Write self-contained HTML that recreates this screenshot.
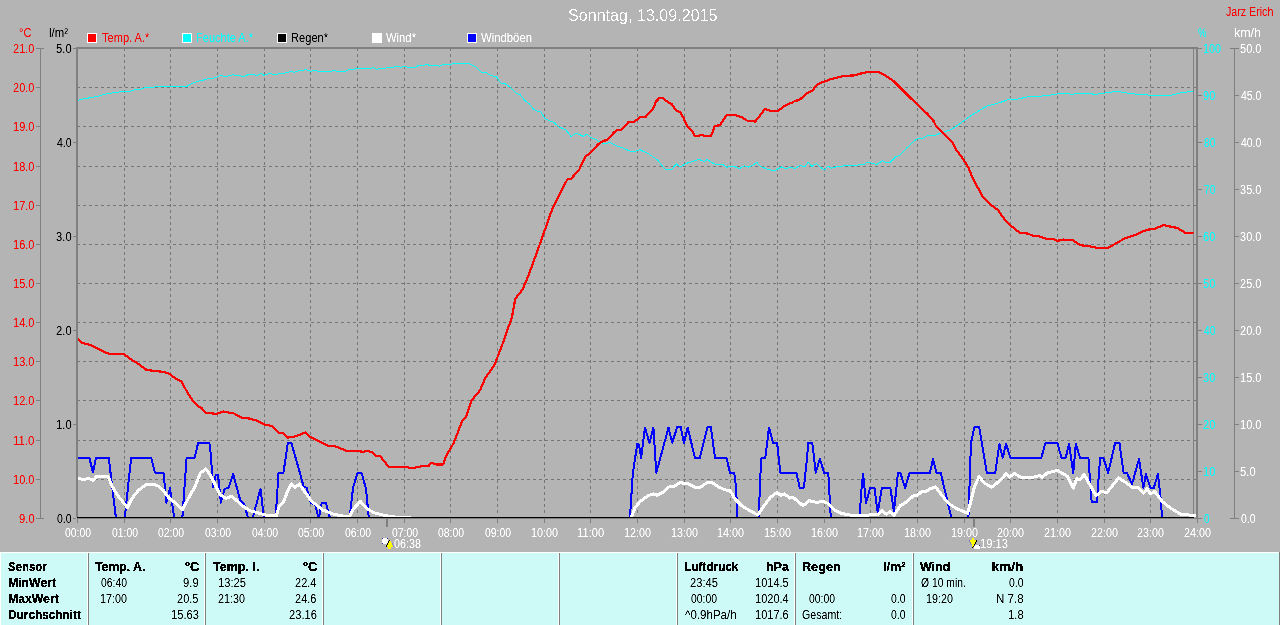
<!DOCTYPE html><html><head><meta charset="utf-8"><title>Sonntag, 13.09.2015</title><style>
html,body{margin:0;padding:0;background:#b4b4b4;width:1280px;height:625px;overflow:hidden}
svg{display:block}
text{font-family:'Liberation Sans', Arial, sans-serif;font-size:12px}
.b{font-weight:bold}
</style></head><body>
<svg width="1280" height="625" viewBox="0 0 1280 625">
<rect x="0" y="0" width="1280" height="625" fill="#b4b4b4"/>
<defs><filter id="ct" x="-5%" y="-20%" width="110%" height="140%"><feComponentTransfer><feFuncA type="linear" slope="1.7" intercept="-0.3"/></feComponentTransfer></filter><filter id="cb" x="-5%" y="-20%" width="110%" height="140%"><feComponentTransfer><feFuncA type="discrete" tableValues="0 0 0 1 1 1 1 1 1 1"/></feComponentTransfer></filter><filter id="cl" x="-5%" y="-20%" width="110%" height="140%"><feComponentTransfer><feFuncA type="discrete" tableValues="0 0 0 0 0 0 1 1 1 1"/></feComponentTransfer></filter></defs>
<text x="567.99" y="21" fill="#ffffff" style="font-size:16px" textLength="149.59" lengthAdjust="spacingAndGlyphs" filter="url(#cl)">Sonntag, 13.09.2015</text>
<text x="1226.00" y="16" fill="#ff0000" textLength="47.30" lengthAdjust="spacingAndGlyphs" filter="url(#ct)">Jarz Erich</text>
<text x="19.08" y="37" fill="#ff0000" textLength="12.35" lengthAdjust="spacingAndGlyphs" filter="url(#ct)">°C</text>
<text x="49.05" y="37" fill="#000" textLength="18.95" lengthAdjust="spacingAndGlyphs" filter="url(#ct)">l/m²</text>
<text x="1198.00" y="37" fill="#00ffff" textLength="8.54" lengthAdjust="spacingAndGlyphs" filter="url(#ct)">%</text>
<text x="1233.96" y="37" fill="#fff" textLength="27.10" lengthAdjust="spacingAndGlyphs" filter="url(#ct)">km/h</text>
<rect x="87" y="33" width="10" height="10" fill="#fff"/>
<rect x="88" y="34" width="8" height="8" fill="#ff0000"/>
<text x="102.00" y="42" fill="#ff0000" textLength="47.33" lengthAdjust="spacingAndGlyphs" filter="url(#ct)">Temp. A.*</text>
<rect x="182" y="33" width="10" height="10" fill="#fff"/>
<rect x="183" y="34" width="8" height="8" fill="#00ffff"/>
<text x="196.08" y="42" fill="#00ffff" textLength="56.96" lengthAdjust="spacingAndGlyphs" filter="url(#ct)">Feuchte A.*</text>
<rect x="277" y="33" width="10" height="10" fill="#fff"/>
<rect x="278" y="34" width="8" height="8" fill="#000000"/>
<text x="291.08" y="42" fill="#000000" textLength="36.95" lengthAdjust="spacingAndGlyphs" filter="url(#ct)">Regen*</text>
<rect x="372" y="33" width="10" height="10" fill="#fff"/>
<rect x="373" y="34" width="8" height="8" fill="#ffffff"/>
<text x="386.00" y="42" fill="#ffffff" textLength="30.01" lengthAdjust="spacingAndGlyphs" filter="url(#ct)">Wind*</text>
<rect x="467" y="33" width="10" height="10" fill="#fff"/>
<rect x="468" y="34" width="8" height="8" fill="#0000ff"/>
<text x="481.00" y="42" fill="#ffffff" textLength="50.99" lengthAdjust="spacingAndGlyphs" filter="url(#ct)">Windböen</text>
<g stroke="#767676" stroke-width="1" stroke-dasharray="3 3" shape-rendering="crispEdges"><line x1="77" y1="87.5" x2="1196" y2="87.5"/><line x1="77" y1="126.5" x2="1196" y2="126.5"/><line x1="77" y1="166.5" x2="1196" y2="166.5"/><line x1="77" y1="205.5" x2="1196" y2="205.5"/><line x1="77" y1="244.5" x2="1196" y2="244.5"/><line x1="77" y1="283.5" x2="1196" y2="283.5"/><line x1="77" y1="322.5" x2="1196" y2="322.5"/><line x1="77" y1="361.5" x2="1196" y2="361.5"/><line x1="77" y1="400.5" x2="1196" y2="400.5"/><line x1="77" y1="440.5" x2="1196" y2="440.5"/><line x1="77" y1="479.5" x2="1196" y2="479.5"/></g>
<g stroke="#767676" stroke-width="1" stroke-dasharray="3 3" shape-rendering="crispEdges"><line x1="124.5" y1="48" x2="124.5" y2="516"/><line x1="170.5" y1="48" x2="170.5" y2="516"/><line x1="217.5" y1="48" x2="217.5" y2="516"/><line x1="264.5" y1="48" x2="264.5" y2="516"/><line x1="310.5" y1="48" x2="310.5" y2="516"/><line x1="357.5" y1="48" x2="357.5" y2="516"/><line x1="404.5" y1="48" x2="404.5" y2="516"/><line x1="450.5" y1="48" x2="450.5" y2="516"/><line x1="497.5" y1="48" x2="497.5" y2="516"/><line x1="544.5" y1="48" x2="544.5" y2="516"/><line x1="590.5" y1="48" x2="590.5" y2="516"/><line x1="637.5" y1="48" x2="637.5" y2="516"/><line x1="684.5" y1="48" x2="684.5" y2="516"/><line x1="730.5" y1="48" x2="730.5" y2="516"/><line x1="777.5" y1="48" x2="777.5" y2="516"/><line x1="824.5" y1="48" x2="824.5" y2="516"/><line x1="870.5" y1="48" x2="870.5" y2="516"/><line x1="917.5" y1="48" x2="917.5" y2="516"/><line x1="964.5" y1="48" x2="964.5" y2="516"/><line x1="1010.5" y1="48" x2="1010.5" y2="516"/><line x1="1057.5" y1="48" x2="1057.5" y2="516"/><line x1="1104.5" y1="48" x2="1104.5" y2="516"/><line x1="1150.5" y1="48" x2="1150.5" y2="516"/></g>
<g stroke="#808080" stroke-width="1" shape-rendering="crispEdges" fill="none"><line x1="40.5" y1="48" x2="40.5" y2="519"/><line x1="36" y1="48.5" x2="44" y2="48.5"/><line x1="36" y1="87.5" x2="40" y2="87.5"/><line x1="36" y1="126.5" x2="40" y2="126.5"/><line x1="36" y1="166.5" x2="40" y2="166.5"/><line x1="36" y1="205.5" x2="40" y2="205.5"/><line x1="36" y1="244.5" x2="40" y2="244.5"/><line x1="36" y1="283.5" x2="40" y2="283.5"/><line x1="36" y1="322.5" x2="40" y2="322.5"/><line x1="36" y1="361.5" x2="40" y2="361.5"/><line x1="36" y1="400.5" x2="40" y2="400.5"/><line x1="36" y1="440.5" x2="40" y2="440.5"/><line x1="36" y1="479.5" x2="40" y2="479.5"/><line x1="36" y1="518.5" x2="44" y2="518.5"/><line x1="73" y1="48.5" x2="76" y2="48.5"/><line x1="73" y1="142.5" x2="76" y2="142.5"/><line x1="73" y1="236.5" x2="76" y2="236.5"/><line x1="73" y1="330.5" x2="76" y2="330.5"/><line x1="73" y1="424.5" x2="76" y2="424.5"/><line x1="73" y1="518.5" x2="76" y2="518.5"/><line x1="1198" y1="48.5" x2="1202" y2="48.5"/><line x1="1198" y1="95.5" x2="1202" y2="95.5"/><line x1="1198" y1="142.5" x2="1202" y2="142.5"/><line x1="1198" y1="189.5" x2="1202" y2="189.5"/><line x1="1198" y1="236.5" x2="1202" y2="236.5"/><line x1="1198" y1="283.5" x2="1202" y2="283.5"/><line x1="1198" y1="330.5" x2="1202" y2="330.5"/><line x1="1198" y1="377.5" x2="1202" y2="377.5"/><line x1="1198" y1="424.5" x2="1202" y2="424.5"/><line x1="1198" y1="471.5" x2="1202" y2="471.5"/><line x1="1198" y1="518.5" x2="1202" y2="518.5"/><line x1="1234.5" y1="48" x2="1234.5" y2="519"/><line x1="1230" y1="48.5" x2="1239" y2="48.5"/><line x1="1235" y1="95.5" x2="1239" y2="95.5"/><line x1="1235" y1="142.5" x2="1239" y2="142.5"/><line x1="1235" y1="189.5" x2="1239" y2="189.5"/><line x1="1235" y1="236.5" x2="1239" y2="236.5"/><line x1="1235" y1="283.5" x2="1239" y2="283.5"/><line x1="1235" y1="330.5" x2="1239" y2="330.5"/><line x1="1235" y1="377.5" x2="1239" y2="377.5"/><line x1="1235" y1="424.5" x2="1239" y2="424.5"/><line x1="1235" y1="471.5" x2="1239" y2="471.5"/><line x1="1230" y1="518.5" x2="1239" y2="518.5"/><line x1="1193.5" y1="49" x2="1193.5" y2="515"/><line x1="77.5" y1="517" x2="77.5" y2="523"/><line x1="124.5" y1="519" x2="124.5" y2="523"/><line x1="170.5" y1="519" x2="170.5" y2="523"/><line x1="217.5" y1="519" x2="217.5" y2="523"/><line x1="264.5" y1="519" x2="264.5" y2="523"/><line x1="310.5" y1="519" x2="310.5" y2="523"/><line x1="357.5" y1="519" x2="357.5" y2="523"/><line x1="404.5" y1="519" x2="404.5" y2="523"/><line x1="450.5" y1="519" x2="450.5" y2="523"/><line x1="497.5" y1="519" x2="497.5" y2="523"/><line x1="544.5" y1="519" x2="544.5" y2="523"/><line x1="590.5" y1="519" x2="590.5" y2="523"/><line x1="637.5" y1="519" x2="637.5" y2="523"/><line x1="684.5" y1="519" x2="684.5" y2="523"/><line x1="730.5" y1="519" x2="730.5" y2="523"/><line x1="777.5" y1="519" x2="777.5" y2="523"/><line x1="824.5" y1="519" x2="824.5" y2="523"/><line x1="870.5" y1="519" x2="870.5" y2="523"/><line x1="917.5" y1="519" x2="917.5" y2="523"/><line x1="964.5" y1="519" x2="964.5" y2="523"/><line x1="1010.5" y1="519" x2="1010.5" y2="523"/><line x1="1057.5" y1="519" x2="1057.5" y2="523"/><line x1="1104.5" y1="519" x2="1104.5" y2="523"/><line x1="1150.5" y1="519" x2="1150.5" y2="523"/><line x1="1197.5" y1="519" x2="1197.5" y2="523"/></g>
<g fill="#808080" shape-rendering="crispEdges">
<rect x="76" y="47" width="1122" height="2"/>
<rect x="76" y="47" width="2" height="470"/>
<rect x="1196" y="47" width="2" height="471"/>
<rect x="1197" y="518" width="1" height="5"/>
<rect x="77" y="518" width="1121" height="1"/>
<rect x="386" y="519" width="2" height="8"/>
<rect x="973" y="519" width="2" height="8"/>
</g>
<defs><clipPath id="pc"><rect x="78" y="49" width="1118" height="468"/></clipPath></defs>
<g clip-path="url(#pc)" fill="none" stroke-linejoin="round" stroke-linecap="round" shape-rendering="crispEdges">
<polyline points="77.7,100.4 84.2,98.8 91.3,97.5 98.4,96.3 104.5,94.3 110.6,93.3 116.7,92.3 123.8,91.4 130.9,91.2 135.0,89.6 141.1,89.0 145.2,87.6 157.3,86.8 171.6,86.4 186.8,86.4 191.9,83.5 197.0,81.5 204.0,79.9 208.1,78.6 213.2,78.4 220.3,75.6 226.4,76.4 232.5,74.8 238.6,75.6 243.7,76.4 248.7,74.6 254.8,74.6 255.9,75.8 260.9,73.6 264.0,75.2 269.0,73.6 275.2,74.6 279.2,73.6 285.3,73.0 290.4,71.5 294.5,72.3 299.5,70.5 306.6,69.7 310.7,71.3 314.8,70.5 318.8,71.3 331.2,71.3 333.2,70.3 337.3,71.3 345.4,71.3 348.4,69.7 354.5,69.3 356.6,68.5 370.8,68.5 372.8,67.5 376.9,69.3 379.9,68.5 385.0,68.5 387.0,67.5 393.1,67.5 395.2,66.3 398.2,66.3 401.3,67.7 403.3,66.3 406.3,66.3 407.3,67.5 415.5,67.5 418.5,65.4 423.6,65.4 426.6,64.4 429.7,65.4 437.8,65.4 439.8,66.3 442.9,64.4 451.0,64.4 453.0,63.4 468.3,63.4 471.3,64.6 476.4,67.3 481.5,72.3 485.5,72.3 490.6,75.4 496.7,77.0 498.8,80.5 500.8,83.1 504.8,83.5 510.9,87.6 516.0,93.1 520.1,94.7 525.2,100.8 529.2,103.8 533.3,108.9 537.3,111.3 540.4,111.3 544.5,118.0 549.5,120.7 553.6,122.1 558.7,126.8 563.0,128.6 566.0,130.0 571.0,136.6 575.9,133.2 579.2,134.4 583.6,136.6 586.4,134.3 588.8,135.4 590.3,137.5 593.7,138.5 596.5,139.7 598.5,141.4 604.9,144.0 609.7,142.4 616.1,145.6 622.5,147.9 632.1,152.0 640.1,149.8 648.1,153.6 657.7,160.0 664.7,169.0 672.1,169.0 676.3,163.9 680.1,167.1 686.5,163.3 699.3,159.4 704.1,161.7 707.3,159.4 713.7,163.9 723.3,164.9 726.5,167.1 734.5,166.5 739.3,168.7 744.1,165.8 748.9,167.1 757.0,162.6 760.2,166.5 770.0,169.9 774.6,170.6 781.6,166.9 785.1,168.7 789.7,167.6 795.5,168.3 800.2,165.2 804.8,166.9 808.3,162.2 811.8,166.4 816.4,163.6 819.9,166.9 824.5,169.9 828.0,165.9 831.5,168.3 837.3,166.4 844.3,165.9 848.9,165.9 858.2,165.0 865.1,164.1 866.3,162.4 872.1,163.1 876.8,164.5 882.6,160.6 886.0,162.9 889.5,162.9 895.3,157.1 900.0,155.3 906.9,147.8 911.6,143.2 917.4,138.5 920.8,139.0 927.8,135.8 935.9,135.1 941.7,132.7 951.0,129.7 960.3,123.5 969.6,116.5 978.9,110.7 987.0,106.1 999.7,102.6 1002.8,101.6 1010.4,98.9 1014.9,99.8 1022.5,98.0 1028.6,96.7 1040.8,96.1 1049.9,95.2 1059.0,93.7 1066.6,93.1 1071.2,94.3 1083.3,93.1 1095.5,94.3 1104.6,93.1 1116.7,91.3 1128.9,93.4 1138.0,94.3 1150.2,95.2 1171.4,95.2 1180.5,92.8 1192.7,91.3" stroke="#00ffff" stroke-width="1"/>
<polyline points="77.2,458.1 89.4,458.1 93.0,472.5 95.9,458.1 108.8,458.1 116.0,518.5 124.7,518.5 131.1,458.1 151.3,458.1 154.9,472.5 163.5,472.5 166.4,502.7 170.0,488.3 174.3,518.5 182.3,518.5 186.6,458.1 194.5,458.1 198.1,443.0 209.4,443.0 210.8,454.5 213.0,487.6 215.8,474.6 218.0,474.6 220.9,502.7 224.5,489.0 228.8,487.6 233.1,473.9 240.3,500.5 243.9,503.4 248.2,518.5 252.5,518.5 260.5,489.0 264.1,518.5 275.6,518.5 278.5,473.2 283.5,472.5 287.8,443.0 291.4,443.0 300.8,476.1 303.7,486.9 306.5,487.6 310.9,502.7 315.2,504.9 318.8,518.5 321.7,503.4 326.0,502.7 330.0,518.5 349.5,518.5 353.1,487.6 357.4,473.2 361.7,473.2 366.0,489.0 368.9,518.5 629.9,518.5 632.8,473.8 635.3,457.0 637.3,443.6 639.0,445.2 641.1,457.8 645.0,427.6 649.5,442.7 653.4,427.6 656.3,472.9 668.5,427.6 672.2,442.7 677.3,426.8 680.6,426.8 684.0,442.7 687.7,427.6 694.9,457.8 699.9,457.8 707.5,426.8 710.8,426.8 715.0,457.8 726.0,457.8 726.7,458.7 730.0,472.9 734.2,472.9 735.9,485.5 737.6,518.5 758.6,518.5 760.3,478.8 761.1,458.3 765.3,457.8 769.0,427.6 772.9,442.7 777.1,442.7 780.4,472.9 796.4,472.9 799.7,487.7 803.9,487.7 807.3,455.3 808.1,442.7 812.3,442.7 815.7,472.9 819.9,458.7 824.1,472.9 828.3,472.9 830.8,518.5 859.7,518.5 860.9,495.6 863.1,473.4 866.0,503.2 870.2,487.7 874.4,487.7 877.7,512.4 881.9,487.7 890.3,487.7 894.0,511.6 897.9,472.9 900.4,472.9 905.1,488.1 909.6,472.9 929.8,472.9 933.1,459.0 936.5,472.9 940.7,472.9 945.7,493.9 951.6,518.5 968.4,518.5 970.1,468.7 970.9,443.6 974.3,427.1 979.2,427.1 986.8,472.9 995.2,472.9 999.4,443.9 1002.7,457.8 1006.1,443.9 1010.3,457.8 1041.3,457.8 1045.5,442.7 1057.3,442.7 1061.5,457.8 1065.7,457.8 1069.1,443.9 1073.3,472.9 1075.8,443.9 1080.0,457.8 1088.4,457.8 1091.7,502.3 1096.8,502.3 1100.1,457.8 1103.4,457.8 1108.1,472.9 1115.2,442.7 1119.4,442.7 1123.6,472.9 1126.9,472.9 1132.0,484.2 1139.0,459.0 1143.4,488.0 1145.9,473.8 1150.5,488.0 1153.8,488.0 1158.0,473.8 1160.5,497.3 1162.2,518.5" stroke="#0000ff" stroke-width="2"/>
<polyline points="77.2,478.7 83.6,479.2 89.4,478.7 93.0,480.4 96.6,476.4 108.1,476.4 112.4,486.9 118.2,496.2 127.5,507.7 132.6,497.7 138.3,490.5 147.0,484.0 152.7,484.0 158.5,486.1 163.5,490.5 168.6,497.7 175.8,503.4 182.3,509.9 188.7,497.7 194.5,487.6 200.3,473.2 205.8,468.9 210.1,474.6 220.2,494.8 225.9,498.4 231.7,496.2 243.2,506.3 250.4,510.9 260.5,513.5 267.7,515.7 276.3,515.7 279.2,506.3 283.5,502.0 287.8,490.5 291.4,484.0 295.0,487.6 299.3,484.0 310.9,500.5 322.4,509.9 330.0,512.8 333.6,514.2 342.3,516.0 349.5,516.0 353.8,508.5 360.3,501.3 366.8,508.5 374.0,512.8 385.5,515.7 397.0,517.3 410.0,517.5" stroke="#ffffff" stroke-width="3"/>
<polyline points="631.1,518.0 635.3,507.0 640.3,501.5 647.9,495.6 653.7,493.9 657.1,495.3 663.0,492.3 668.0,487.2 673.9,486.4 680.6,482.2 684.0,483.9 688.2,483.9 695.7,487.7 699.9,487.7 707.5,482.2 711.7,482.2 717.6,486.4 724.3,489.7 730.0,490.6 735.1,499.0 741.8,505.7 748.5,509.9 757.8,514.9 763.6,506.5 770.3,497.3 777.1,492.3 780.4,495.3 784.6,493.9 789.7,498.1 793.0,497.3 798.9,502.3 803.1,505.7 809.0,500.7 816.5,502.3 823.3,501.5 827.5,503.2 834.2,509.9 840.9,513.3 849.3,514.9 855.0,515.8 866.8,515.4 875.2,514.1 877.7,514.9 881.9,510.4 886.1,514.1 890.3,511.6 894.0,515.4 900.4,505.7 907.1,501.5 913.0,496.1 917.2,495.3 921.4,491.9 925.6,491.9 929.8,488.9 935.7,486.9 941.5,494.8 948.3,503.2 955.8,508.2 967.6,513.3 970.1,504.0 974.3,487.2 979.2,476.3 984.2,483.0 991.8,487.2 1000.2,480.5 1006.1,473.8 1009.4,477.1 1014.5,473.4 1020.3,477.1 1030.4,478.0 1039.7,475.5 1042.2,477.5 1047.2,472.9 1057.3,470.4 1067.4,476.3 1073.3,488.1 1076.6,478.8 1080.0,479.7 1084.2,474.6 1095.9,495.6 1101.8,491.4 1106.8,492.6 1118.5,478.0 1125.3,482.2 1132.0,487.2 1138.7,488.0 1143.7,493.1 1147.1,488.9 1150.5,493.9 1154.7,491.4 1162.2,501.5 1170.6,508.2 1180.7,514.1 1193.3,515.5 1195.0,515.6" stroke="#ffffff" stroke-width="3"/>
<polyline points="77.7,339.2 81.5,342.5 91.8,345.6 98.1,348.7 105.8,352.5 109.7,353.8 123.7,353.8 130.1,358.9 137.8,363.5 145.5,369.4 151.9,370.7 164.7,372.0 169.8,374.2 174.9,378.1 181.3,381.4 187.7,392.9 192.8,400.6 197.9,406.2 201.8,408.3 205.6,412.6 215.9,413.9 223.5,411.6 233.8,413.4 241.4,417.5 249.1,418.5 256.8,420.6 264.5,424.4 272.1,426.2 278.5,432.6 283.7,433.4 287.5,437.7 295.2,436.4 305.4,432.6 310.5,437.2 318.2,440.8 328.4,445.9 335.8,446.5 346.4,450.7 357.0,451.1 364.0,451.8 367.5,450.7 372.8,452.8 376.3,456.3 379.8,455.6 388.6,466.8 407.5,466.8 408.5,467.8 415.0,467.8 416.0,466.8 420.0,466.8 421.0,465.8 429.0,465.8 430.8,462.7 436.1,464.4 443.2,464.4 446.0,456.0 453.7,443.0 462.5,420.1 466.0,416.6 471.3,400.7 480.1,390.2 485.4,377.9 494.2,365.6 503.0,342.7 506.5,332.1 511.8,318.1 515.3,298.7 522.3,289.9 527.6,277.6 534.4,259.3 542.4,236.9 552.0,209.7 560.0,193.7 567.4,179.3 571.2,178.6 579.2,169.7 585.6,156.2 590.4,153.0 598.4,144.0 603.3,140.8 607.1,140.2 614.5,131.9 617.7,129.6 621.8,129.6 628.9,121.6 634.6,121.6 640.0,117.2 646.0,116.8 648.0,113.6 653.2,108.8 655.6,102.0 659.6,97.8 662.4,97.8 666.4,100.8 668.8,102.8 672.0,104.4 676.0,110.4 680.4,112.4 683.2,117.2 687.2,126.0 692.0,130.8 694.8,135.6 699.6,135.6 700.8,134.8 703.2,134.8 704.0,135.8 711.2,135.8 714.8,126.0 720.0,125.2 726.5,115.2 732.9,114.6 740.9,116.8 747.3,120.7 755.3,121.6 765.0,108.8 771.4,111.1 778.1,110.7 786.2,104.9 792.0,102.6 795.5,100.7 799.0,100.3 806.0,94.0 812.9,90.3 816.4,85.2 821.1,82.8 825.7,81.0 831.5,78.9 837.3,77.5 844.3,75.9 854.7,75.4 860.5,73.6 869.8,71.7 877.9,71.9 884.9,75.4 893.0,80.5 902.3,89.8 910.4,97.9 918.5,105.6 927.8,114.2 933.6,121.1 935.9,125.8 944.0,133.9 952.2,142.0 955.7,149.0 962.6,158.3 968.4,167.6 973.1,179.2 978.9,189.6 983.0,197.0 990.6,204.6 998.2,210.4 1005.8,221.0 1011.9,226.5 1019.5,232.6 1027.1,233.5 1033.2,235.6 1039.3,236.5 1045.3,238.6 1052.9,238.6 1057.5,240.8 1063.6,239.6 1072.7,240.2 1080.3,245.3 1087.9,245.9 1097.0,247.8 1107.6,247.8 1113.7,244.7 1124.3,238.6 1135.0,235.0 1144.1,231.0 1148.6,229.5 1154.7,228.9 1163.8,225.0 1169.9,226.5 1177.5,228.0 1185.1,232.6 1192.7,232.6" stroke="#ff0000" stroke-width="2.2"/>
</g>
<rect x="77" y="517" width="1117" height="1" fill="#000" shape-rendering="crispEdges"/>
<text x="13.09" y="53" fill="#ff0000" textLength="21.24" lengthAdjust="spacingAndGlyphs" filter="url(#ct)">21.0</text>
<text x="13.09" y="92" fill="#ff0000" textLength="21.24" lengthAdjust="spacingAndGlyphs" filter="url(#ct)">20.0</text>
<text x="13.09" y="131" fill="#ff0000" textLength="21.24" lengthAdjust="spacingAndGlyphs" filter="url(#ct)">19.0</text>
<text x="13.09" y="171" fill="#ff0000" textLength="21.24" lengthAdjust="spacingAndGlyphs" filter="url(#ct)">18.0</text>
<text x="13.09" y="210" fill="#ff0000" textLength="21.24" lengthAdjust="spacingAndGlyphs" filter="url(#ct)">17.0</text>
<text x="13.09" y="249" fill="#ff0000" textLength="21.24" lengthAdjust="spacingAndGlyphs" filter="url(#ct)">16.0</text>
<text x="13.09" y="288" fill="#ff0000" textLength="21.24" lengthAdjust="spacingAndGlyphs" filter="url(#ct)">15.0</text>
<text x="13.09" y="327" fill="#ff0000" textLength="21.24" lengthAdjust="spacingAndGlyphs" filter="url(#ct)">14.0</text>
<text x="13.09" y="366" fill="#ff0000" textLength="21.24" lengthAdjust="spacingAndGlyphs" filter="url(#ct)">13.0</text>
<text x="13.09" y="405" fill="#ff0000" textLength="21.24" lengthAdjust="spacingAndGlyphs" filter="url(#ct)">12.0</text>
<text x="13.05" y="445" fill="#ff0000" textLength="21.40" lengthAdjust="spacingAndGlyphs" filter="url(#ct)">11.0</text>
<text x="13.09" y="484" fill="#ff0000" textLength="21.24" lengthAdjust="spacingAndGlyphs" filter="url(#ct)">10.0</text>
<text x="19.07" y="523" fill="#ff0000" textLength="15.58" lengthAdjust="spacingAndGlyphs" filter="url(#ct)">9.0</text>
<text x="56.07" y="53" fill="#000" textLength="15.58" lengthAdjust="spacingAndGlyphs" filter="url(#ct)">5.0</text>
<text x="57.00" y="147" fill="#000" textLength="14.60" lengthAdjust="spacingAndGlyphs" filter="url(#ct)">4.0</text>
<text x="56.07" y="241" fill="#000" textLength="15.58" lengthAdjust="spacingAndGlyphs" filter="url(#ct)">3.0</text>
<text x="56.07" y="335" fill="#000" textLength="15.58" lengthAdjust="spacingAndGlyphs" filter="url(#ct)">2.0</text>
<text x="56.07" y="429" fill="#000" textLength="15.58" lengthAdjust="spacingAndGlyphs" filter="url(#ct)">1.0</text>
<text x="57.00" y="523" fill="#000" textLength="14.60" lengthAdjust="spacingAndGlyphs" filter="url(#ct)">0.0</text>
<text x="1203.11" y="53" fill="#00ffff" textLength="17.92" lengthAdjust="spacingAndGlyphs" filter="url(#ct)">100</text>
<text x="1240.09" y="53" fill="#fff" textLength="21.24" lengthAdjust="spacingAndGlyphs" filter="url(#ct)">50.0</text>
<text x="1203.08" y="100" fill="#00ffff" textLength="12.25" lengthAdjust="spacingAndGlyphs" filter="url(#ct)">90</text>
<text x="1241.00" y="100" fill="#fff" textLength="20.31" lengthAdjust="spacingAndGlyphs" filter="url(#ct)">45.0</text>
<text x="1204.00" y="147" fill="#00ffff" textLength="11.30" lengthAdjust="spacingAndGlyphs" filter="url(#ct)">80</text>
<text x="1241.00" y="147" fill="#fff" textLength="20.31" lengthAdjust="spacingAndGlyphs" filter="url(#ct)">40.0</text>
<text x="1204.00" y="194" fill="#00ffff" textLength="11.30" lengthAdjust="spacingAndGlyphs" filter="url(#ct)">70</text>
<text x="1240.09" y="194" fill="#fff" textLength="21.24" lengthAdjust="spacingAndGlyphs" filter="url(#ct)">35.0</text>
<text x="1203.08" y="241" fill="#00ffff" textLength="12.25" lengthAdjust="spacingAndGlyphs" filter="url(#ct)">60</text>
<text x="1240.09" y="241" fill="#fff" textLength="21.24" lengthAdjust="spacingAndGlyphs" filter="url(#ct)">30.0</text>
<text x="1203.08" y="288" fill="#00ffff" textLength="12.25" lengthAdjust="spacingAndGlyphs" filter="url(#ct)">50</text>
<text x="1240.09" y="288" fill="#fff" textLength="21.24" lengthAdjust="spacingAndGlyphs" filter="url(#ct)">25.0</text>
<text x="1204.00" y="335" fill="#00ffff" textLength="11.30" lengthAdjust="spacingAndGlyphs" filter="url(#ct)">40</text>
<text x="1240.09" y="335" fill="#fff" textLength="21.24" lengthAdjust="spacingAndGlyphs" filter="url(#ct)">20.0</text>
<text x="1203.08" y="382" fill="#00ffff" textLength="12.25" lengthAdjust="spacingAndGlyphs" filter="url(#ct)">30</text>
<text x="1240.09" y="382" fill="#fff" textLength="21.24" lengthAdjust="spacingAndGlyphs" filter="url(#ct)">15.0</text>
<text x="1203.08" y="429" fill="#00ffff" textLength="12.25" lengthAdjust="spacingAndGlyphs" filter="url(#ct)">20</text>
<text x="1240.09" y="429" fill="#fff" textLength="21.24" lengthAdjust="spacingAndGlyphs" filter="url(#ct)">10.0</text>
<text x="1203.08" y="476" fill="#00ffff" textLength="12.25" lengthAdjust="spacingAndGlyphs" filter="url(#ct)">10</text>
<text x="1240.07" y="476" fill="#fff" textLength="15.58" lengthAdjust="spacingAndGlyphs" filter="url(#ct)">5.0</text>
<text x="1204.00" y="523" fill="#00ffff" textLength="5.57" lengthAdjust="spacingAndGlyphs" filter="url(#ct)">0</text>
<text x="1241.00" y="523" fill="#fff" textLength="14.60" lengthAdjust="spacingAndGlyphs" filter="url(#ct)">0.0</text>
<text x="65.00" y="537" fill="#fff" textLength="26.03" lengthAdjust="spacingAndGlyphs" filter="url(#ct)">00:00</text>
<text x="112.00" y="537" fill="#fff" textLength="26.03" lengthAdjust="spacingAndGlyphs" filter="url(#ct)">01:00</text>
<text x="158.00" y="537" fill="#fff" textLength="26.03" lengthAdjust="spacingAndGlyphs" filter="url(#ct)">02:00</text>
<text x="205.00" y="537" fill="#fff" textLength="26.03" lengthAdjust="spacingAndGlyphs" filter="url(#ct)">03:00</text>
<text x="252.00" y="537" fill="#fff" textLength="26.03" lengthAdjust="spacingAndGlyphs" filter="url(#ct)">04:00</text>
<text x="298.00" y="537" fill="#fff" textLength="26.03" lengthAdjust="spacingAndGlyphs" filter="url(#ct)">05:00</text>
<text x="345.00" y="537" fill="#fff" textLength="26.03" lengthAdjust="spacingAndGlyphs" filter="url(#ct)">06:00</text>
<text x="392.00" y="537" fill="#fff" textLength="26.03" lengthAdjust="spacingAndGlyphs" filter="url(#ct)">07:00</text>
<text x="438.00" y="537" fill="#fff" textLength="26.03" lengthAdjust="spacingAndGlyphs" filter="url(#ct)">08:00</text>
<text x="485.00" y="537" fill="#fff" textLength="26.03" lengthAdjust="spacingAndGlyphs" filter="url(#ct)">09:00</text>
<text x="531.10" y="537" fill="#fff" textLength="26.92" lengthAdjust="spacingAndGlyphs" filter="url(#ct)">10:00</text>
<text x="577.07" y="537" fill="#fff" textLength="27.06" lengthAdjust="spacingAndGlyphs" filter="url(#ct)">11:00</text>
<text x="624.10" y="537" fill="#fff" textLength="26.92" lengthAdjust="spacingAndGlyphs" filter="url(#ct)">12:00</text>
<text x="671.10" y="537" fill="#fff" textLength="26.92" lengthAdjust="spacingAndGlyphs" filter="url(#ct)">13:00</text>
<text x="717.10" y="537" fill="#fff" textLength="26.92" lengthAdjust="spacingAndGlyphs" filter="url(#ct)">14:00</text>
<text x="764.10" y="537" fill="#fff" textLength="26.92" lengthAdjust="spacingAndGlyphs" filter="url(#ct)">15:00</text>
<text x="811.10" y="537" fill="#fff" textLength="26.92" lengthAdjust="spacingAndGlyphs" filter="url(#ct)">16:00</text>
<text x="857.10" y="537" fill="#fff" textLength="26.92" lengthAdjust="spacingAndGlyphs" filter="url(#ct)">17:00</text>
<text x="904.10" y="537" fill="#fff" textLength="26.92" lengthAdjust="spacingAndGlyphs" filter="url(#ct)">18:00</text>
<text x="951.10" y="537" fill="#fff" textLength="26.92" lengthAdjust="spacingAndGlyphs" filter="url(#ct)">19:00</text>
<text x="997.10" y="537" fill="#fff" textLength="26.92" lengthAdjust="spacingAndGlyphs" filter="url(#ct)">20:00</text>
<text x="1044.10" y="537" fill="#fff" textLength="26.92" lengthAdjust="spacingAndGlyphs" filter="url(#ct)">21:00</text>
<text x="1091.10" y="537" fill="#fff" textLength="26.92" lengthAdjust="spacingAndGlyphs" filter="url(#ct)">22:00</text>
<text x="1137.10" y="537" fill="#fff" textLength="26.92" lengthAdjust="spacingAndGlyphs" filter="url(#ct)">23:00</text>
<text x="1184.10" y="537" fill="#fff" textLength="26.92" lengthAdjust="spacingAndGlyphs" filter="url(#ct)">24:00</text>
<text x="394.00" y="548" fill="#fff" textLength="26.92" lengthAdjust="spacingAndGlyphs" filter="url(#ct)">06:38</text>
<text x="980.07" y="548" fill="#fff" textLength="27.89" lengthAdjust="spacingAndGlyphs" filter="url(#ct)">19:13</text>
<g shape-rendering="crispEdges">
<rect x="382" y="538" width="6" height="6" fill="#ffffff"/>
<rect x="382" y="538" width="1" height="1" fill="#2020a0"/>
<rect x="387" y="538" width="1" height="1" fill="#2020a0"/>
<rect x="382" y="543" width="1" height="1" fill="#2020a0"/>
<rect x="389" y="540" width="1" height="1" fill="#ffff00"/>
<rect x="389" y="541" width="2" height="1" fill="#ffff00"/>
<rect x="389" y="542" width="2" height="1" fill="#ffff00"/>
<rect x="388" y="543" width="4" height="1" fill="#ffff00"/>
<rect x="388" y="544" width="4" height="1" fill="#ffff00"/>
<rect x="387" y="545" width="6" height="1" fill="#ffff00"/>
<rect x="387" y="546" width="6" height="1" fill="#ffff00"/>
<rect x="388" y="547" width="3" height="1" fill="#ffff00"/>
<rect x="388" y="548" width="3" height="1" fill="#ffff00"/>
<rect x="389" y="540" width="1" height="1" fill="#000"/>
<rect x="388" y="541" width="1" height="1" fill="#000"/>
<rect x="388" y="542" width="1" height="1" fill="#000"/>
<rect x="387" y="543" width="1" height="1" fill="#000"/>
<rect x="387" y="544" width="1" height="1" fill="#000"/>
<rect x="386" y="545" width="1" height="1" fill="#000"/>
<rect x="386" y="546" width="1" height="1" fill="#000"/>
<rect x="392" y="543" width="1" height="1" fill="#8080d0"/>
<rect x="392" y="544" width="1" height="1" fill="#8080d0"/>
<rect x="393" y="545" width="1" height="1" fill="#8080d0"/>
<rect x="393" y="546" width="1" height="1" fill="#8080d0"/>
<rect x="972" y="538" width="2" height="1" fill="#ffff00"/>
<rect x="972" y="539" width="2" height="1" fill="#ffff00"/>
<rect x="970" y="540" width="6" height="1" fill="#ffff00"/>
<rect x="970" y="541" width="6" height="1" fill="#ffff00"/>
<rect x="971" y="542" width="4" height="1" fill="#ffff00"/>
<rect x="971" y="543" width="4" height="1" fill="#ffff00"/>
<rect x="972" y="544" width="2" height="1" fill="#ffff00"/>
<rect x="972" y="545" width="2" height="1" fill="#ffff00"/>
<rect x="972" y="546" width="1" height="1" fill="#ffff00"/>
<rect x="976" y="540" width="1" height="1" fill="#000"/>
<rect x="976" y="541" width="1" height="1" fill="#000"/>
<rect x="975" y="542" width="1" height="1" fill="#000"/>
<rect x="975" y="543" width="1" height="1" fill="#000"/>
<rect x="974" y="544" width="1" height="1" fill="#000"/>
<rect x="974" y="545" width="1" height="1" fill="#000"/>
<rect x="973" y="546" width="1" height="1" fill="#000"/>
<rect x="972" y="547" width="1" height="1" fill="#000"/>
<rect x="969" y="540" width="1" height="1" fill="#8080d0"/>
<rect x="969" y="541" width="1" height="1" fill="#8080d0"/>
<rect x="970" y="542" width="1" height="1" fill="#8080d0"/>
<rect x="970" y="543" width="1" height="1" fill="#8080d0"/>
<rect x="971" y="544" width="1" height="1" fill="#8080d0"/>
<rect x="974" y="546" width="6" height="3" fill="#ffffff"/>
<rect x="975" y="545" width="4" height="1" fill="#ffffff"/>
<rect x="974" y="545" width="1" height="1" fill="#2020a0"/>
<rect x="979" y="545" width="1" height="1" fill="#2020a0"/>
</g>
<g shape-rendering="crispEdges">
<rect x="0" y="552" width="1280" height="73" fill="#fff"/>
<rect x="1" y="553" width="1278" height="72" fill="#cdf9f6"/>
<rect x="1279" y="552" width="1" height="73" fill="#808080"/>
<rect x="87" y="553" width="1" height="72" fill="#fff"/>
<rect x="88" y="553" width="1" height="72" fill="#808080"/>
<rect x="204" y="553" width="1" height="72" fill="#fff"/>
<rect x="205" y="553" width="1" height="72" fill="#808080"/>
<rect x="322" y="553" width="1" height="72" fill="#fff"/>
<rect x="323" y="553" width="1" height="72" fill="#808080"/>
<rect x="440" y="553" width="1" height="72" fill="#fff"/>
<rect x="441" y="553" width="1" height="72" fill="#808080"/>
<rect x="558" y="553" width="1" height="72" fill="#fff"/>
<rect x="559" y="553" width="1" height="72" fill="#808080"/>
<rect x="676" y="553" width="1" height="72" fill="#fff"/>
<rect x="677" y="553" width="1" height="72" fill="#808080"/>
<rect x="794" y="553" width="1" height="72" fill="#fff"/>
<rect x="795" y="553" width="1" height="72" fill="#808080"/>
<rect x="912" y="553" width="1" height="72" fill="#fff"/>
<rect x="913" y="553" width="1" height="72" fill="#808080"/>
</g>
<text x="8.05" y="571" fill="#000" class="b" textLength="38.65" lengthAdjust="spacingAndGlyphs" filter="url(#cb)">Sensor</text>
<text x="7.98" y="587" fill="#000" class="b" textLength="48.13" lengthAdjust="spacingAndGlyphs" filter="url(#cb)">MinWert</text>
<text x="7.98" y="603" fill="#000" class="b" textLength="50.81" lengthAdjust="spacingAndGlyphs" filter="url(#cb)">MaxWert</text>
<text x="8.01" y="619" fill="#000" class="b" textLength="73.00" lengthAdjust="spacingAndGlyphs" filter="url(#cb)">Durchschnitt</text>
<text x="95.00" y="571" fill="#000" class="b" textLength="50.35" lengthAdjust="spacingAndGlyphs" filter="url(#cb)">Temp. A.</text>
<text x="184.92" y="571" fill="#000" class="b" textLength="14.59" lengthAdjust="spacingAndGlyphs" filter="url(#cb)">°C</text>
<text x="101.00" y="587" fill="#000" textLength="26.03" lengthAdjust="spacingAndGlyphs" filter="url(#ct)">06:40</text>
<text x="183.07" y="587" fill="#000" textLength="15.58" lengthAdjust="spacingAndGlyphs" filter="url(#ct)">9.9</text>
<text x="100.10" y="603" fill="#000" textLength="26.92" lengthAdjust="spacingAndGlyphs" filter="url(#ct)">17:00</text>
<text x="177.09" y="603" fill="#000" textLength="21.24" lengthAdjust="spacingAndGlyphs" filter="url(#ct)">20.5</text>
<text x="171.07" y="619" fill="#000" textLength="27.89" lengthAdjust="spacingAndGlyphs" filter="url(#ct)">15.63</text>
<text x="213.00" y="571" fill="#000" class="b" textLength="46.47" lengthAdjust="spacingAndGlyphs" filter="url(#cb)">Temp. I.</text>
<text x="302.92" y="571" fill="#000" class="b" textLength="14.59" lengthAdjust="spacingAndGlyphs" filter="url(#cb)">°C</text>
<text x="218.07" y="587" fill="#000" textLength="27.89" lengthAdjust="spacingAndGlyphs" filter="url(#ct)">13:25</text>
<text x="295.09" y="587" fill="#000" textLength="21.24" lengthAdjust="spacingAndGlyphs" filter="url(#ct)">22.4</text>
<text x="218.10" y="603" fill="#000" textLength="26.92" lengthAdjust="spacingAndGlyphs" filter="url(#ct)">21:30</text>
<text x="295.09" y="603" fill="#000" textLength="21.24" lengthAdjust="spacingAndGlyphs" filter="url(#ct)">24.6</text>
<text x="289.07" y="619" fill="#000" textLength="27.89" lengthAdjust="spacingAndGlyphs" filter="url(#ct)">23.16</text>
<text x="684.02" y="571" fill="#000" class="b" textLength="54.32" lengthAdjust="spacingAndGlyphs" filter="url(#cb)">Luftdruck</text>
<text x="765.95" y="571" fill="#000" class="b" textLength="23.06" lengthAdjust="spacingAndGlyphs" filter="url(#cb)">hPa</text>
<text x="690.07" y="587" fill="#000" textLength="27.89" lengthAdjust="spacingAndGlyphs" filter="url(#ct)">23:45</text>
<text x="755.09" y="587" fill="#000" textLength="33.56" lengthAdjust="spacingAndGlyphs" filter="url(#ct)">1014.5</text>
<text x="691.00" y="603" fill="#000" textLength="26.03" lengthAdjust="spacingAndGlyphs" filter="url(#ct)">00:00</text>
<text x="755.09" y="603" fill="#000" textLength="33.56" lengthAdjust="spacingAndGlyphs" filter="url(#ct)">1020.4</text>
<text x="755.09" y="619" fill="#000" textLength="33.56" lengthAdjust="spacingAndGlyphs" filter="url(#ct)">1017.6</text>
<text x="685.00" y="619" fill="#000" textLength="51.65" lengthAdjust="spacingAndGlyphs" filter="url(#ct)">^0.9hPa/h</text>
<text x="801.94" y="571" fill="#000" class="b" textLength="38.78" lengthAdjust="spacingAndGlyphs" filter="url(#cb)">Regen</text>
<text x="882.95" y="571" fill="#000" class="b" textLength="22.41" lengthAdjust="spacingAndGlyphs" filter="url(#cb)">l/m²</text>
<text x="809.00" y="603" fill="#000" textLength="26.03" lengthAdjust="spacingAndGlyphs" filter="url(#ct)">00:00</text>
<text x="891.00" y="603" fill="#000" textLength="14.60" lengthAdjust="spacingAndGlyphs" filter="url(#ct)">0.0</text>
<text x="891.00" y="619" fill="#000" textLength="14.60" lengthAdjust="spacingAndGlyphs" filter="url(#ct)">0.0</text>
<text x="802.12" y="619" fill="#000" textLength="40.09" lengthAdjust="spacingAndGlyphs" filter="url(#ct)">Gesamt:</text>
<text x="920.00" y="571" fill="#000" class="b" textLength="30.23" lengthAdjust="spacingAndGlyphs" filter="url(#cb)">Wind</text>
<text x="991.88" y="571" fill="#000" class="b" textLength="31.25" lengthAdjust="spacingAndGlyphs" filter="url(#cb)">km/h</text>
<text x="1009.00" y="587" fill="#000" textLength="14.60" lengthAdjust="spacingAndGlyphs" filter="url(#ct)">0.0</text>
<text x="926.10" y="603" fill="#000" textLength="26.92" lengthAdjust="spacingAndGlyphs" filter="url(#ct)">19:20</text>
<text x="1008.07" y="619" fill="#000" textLength="15.58" lengthAdjust="spacingAndGlyphs" filter="url(#ct)">1.8</text>
<text x="921.00" y="587" fill="#000" textLength="44.89" lengthAdjust="spacingAndGlyphs" filter="url(#ct)">Ø 10 min.</text>
<text x="996.04" y="603" fill="#000" textLength="27.62" lengthAdjust="spacingAndGlyphs" filter="url(#ct)">N 7.8</text>
</svg></body></html>
